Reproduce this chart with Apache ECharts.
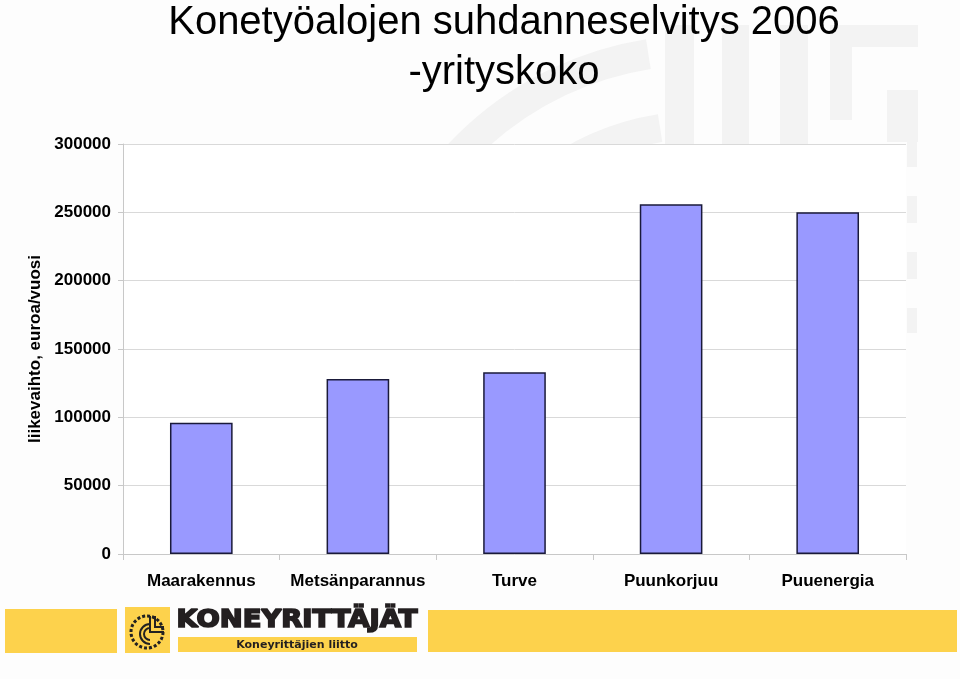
<!DOCTYPE html>
<html>
<head>
<meta charset="utf-8">
<script src="https://cdn.jsdelivr.net/npm/echarts@6/dist/echarts.min.js"></script>
<style>
html,body{margin:0;padding:0;background:#fdfdfd;}
#chart{width:960px;height:679px;}
</style>
</head>
<body>
<div id="chart"></div>
<script>
const titleLines = ['Konetyöalojen suhdanneselvitys 2006', '-yrityskoko'];
const categories = ['Maarakennus', 'Metsänparannus', 'Turve', 'Puunkorjuu', 'Puuenergia'];
const values = [96000, 128000, 133000, 256000, 250000];
const yAxisName = 'liikevaihto, euroa/vuosi';
const yMin = 0, yMax = 300000, yStep = 50000;
const logoText = 'KONEYRITTÄJÄT';
const logoSubText = 'Koneyrittäjien liitto';

const chart = echarts.init(document.getElementById('chart'), null, {renderer: 'canvas'});
const wm = '#f3f3f3';
const yellow = '#fdd24c';

const graphics = [
  {type: 'rect', z: -10, shape: {x: 0, y: 0, width: 960, height: 679}, style: {fill: '#fdfdfd'}},
  // faint watermark pieces
  {type: 'arc', z: -9, shape: {cx: 700, cy: 380, r: 330, startAngle: Math.PI * 1.08, endAngle: Math.PI * 1.45}, style: {stroke: wm, lineWidth: 30, fill: null}},
  {type: 'arc', z: -9, shape: {cx: 700, cy: 380, r: 255, startAngle: Math.PI * 1.12, endAngle: Math.PI * 1.45}, style: {stroke: wm, lineWidth: 28, fill: null}},
  {type: 'rect', z: -9, shape: {x: 665, y: 25, width: 29, height: 120}, style: {fill: wm}},
  {type: 'rect', z: -9, shape: {x: 722, y: 25, width: 27, height: 120}, style: {fill: wm}},
  {type: 'rect', z: -9, shape: {x: 780, y: 25, width: 28, height: 120}, style: {fill: wm}},
  {type: 'rect', z: -9, shape: {x: 830, y: 25, width: 22, height: 95}, style: {fill: wm}},
  {type: 'rect', z: -9, shape: {x: 852, y: 25, width: 66, height: 22}, style: {fill: wm}},
  {type: 'rect', z: -9, shape: {x: 887, y: 90, width: 31, height: 52}, style: {fill: wm}},
  {type: 'rect', z: -9, shape: {x: 907, y: 142, width: 10, height: 25}, style: {fill: wm}},
  {type: 'rect', z: -9, shape: {x: 907, y: 196, width: 10, height: 27}, style: {fill: wm}},
  {type: 'rect', z: -9, shape: {x: 907, y: 252, width: 10, height: 27}, style: {fill: wm}},
  {type: 'rect', z: -9, shape: {x: 907, y: 308, width: 10, height: 25}, style: {fill: wm}},
  // plot area background
  {type: 'rect', z: -8, shape: {x: 123, y: 144, width: 783, height: 410}, style: {fill: '#ffffff'}},
  // bottom yellow band with logo
  {type: 'rect', z: -5, shape: {x: 5, y: 609, width: 112, height: 44}, style: {fill: yellow}},
  {type: 'rect', z: -5, shape: {x: 125, y: 607, width: 45, height: 46}, style: {fill: yellow}},
  {type: 'circle', z: -4, shape: {cx: 147, cy: 632, r: 16}, style: {fill: null, stroke: '#222', lineWidth: 3, lineDash: [3, 2]}},
  {type: 'arc', z: -4, shape: {cx: 150, cy: 634, r: 10, startAngle: Math.PI * 0.5, endAngle: Math.PI * 1.5}, style: {fill: null, stroke: '#222', lineWidth: 2}},
  {type: 'arc', z: -4, shape: {cx: 150, cy: 634, r: 6, startAngle: Math.PI * 0.5, endAngle: Math.PI * 1.5}, style: {fill: null, stroke: '#222', lineWidth: 2}},
  {type: 'polyline', z: -4, shape: {points: [[150, 616], [150, 632], [164, 632]]}, style: {fill: null, stroke: '#222', lineWidth: 2}},
  {type: 'polyline', z: -4, shape: {points: [[155, 616], [155, 627], [164, 627]]}, style: {fill: null, stroke: '#222', lineWidth: 2}},
  {type: 'text', z: -4, x: 297, y: 621, scaleX: 1.19, scaleY: 1.05, style: {text: logoText, x: 0, y: 0, textAlign: 'center', textVerticalAlign: 'middle', font: 'bold 23px "DejaVu Sans"', fill: '#231f20', stroke: '#231f20', lineWidth: 1.6}},
  {type: 'rect', z: -5, shape: {x: 178, y: 637, width: 239, height: 15}, style: {fill: yellow}},
  {type: 'text', z: -4, style: {text: logoSubText, x: 297, y: 645, textAlign: 'center', textVerticalAlign: 'middle', font: 'bold 11px "DejaVu Sans"', fill: '#231f20'}},
  {type: 'rect', z: -5, shape: {x: 428, y: 610, width: 529, height: 42}, style: {fill: yellow}}
];

const option = {
  backgroundColor: 'transparent',
  animation: false,
  title: {
    text: titleLines.join('\n'),
    left: 499,
    top: -7,
    textAlign: 'center',
    textStyle: {fontFamily: '"Liberation Sans", Arial, sans-serif', fontSize: 40, fontWeight: 'normal', color: '#000', lineHeight: 50}
  },
  graphic: graphics,
  grid: {left: 123, right: 54, top: 144, bottom: 125, containLabel: false},
  xAxis: {
    type: 'category',
    data: categories,
    axisLine: {lineStyle: {color: '#c8c8c8', width: 1}},
    axisTick: {show: true, length: 6, lineStyle: {color: '#c8c8c8'}},
    axisLabel: {interval: 0, hideOverlap: false, color: '#000', fontFamily: '"Liberation Sans", Arial, sans-serif', fontWeight: 'bold', fontSize: 17, margin: 19}
  },
  yAxis: {
    type: 'value',
    min: yMin, max: yMax, interval: yStep,
    name: yAxisName,
    nameLocation: 'middle',
    nameGap: 74,
    nameTextStyle: {color: '#000', fontFamily: '"Liberation Sans", Arial, sans-serif', fontWeight: 'bold', fontSize: 17},
    axisLine: {show: true, lineStyle: {color: '#c8c8c8', width: 1}},
    axisTick: {show: true, length: 5, lineStyle: {color: '#c8c8c8'}},
    axisLabel: {formatter: function (v) { return String(v); }, color: '#000', fontFamily: '"Liberation Sans", Arial, sans-serif', fontWeight: 'bold', fontSize: 17, margin: 12},
    splitLine: {show: true, lineStyle: {color: '#d9d9d9', width: 1}}
  },
  series: [{
    type: 'bar',
    data: values,
    barWidth: '40%',
    itemStyle: {color: '#9999ff', borderColor: '#1a1a3a', borderWidth: 1.5}
  }]
};
chart.setOption(option);
</script>
</body>
</html>
